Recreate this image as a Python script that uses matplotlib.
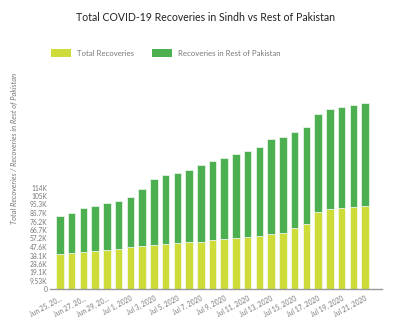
import matplotlib
matplotlib.use("Agg")
import matplotlib.pyplot as plt
import numpy as np
from matplotlib.patches import Patch

plt.rcParams['font.family'] = ['Lato', 'DejaVu Sans']

dates = ["Jun 25, 2020", "Jun 26, 2020", "Jun 27, 2020", "Jun 28, 2020", "Jun 29, 2020",
         "Jun 30, 2020", "Jul 1, 2020", "Jul 2, 2020", "Jul 3, 2020", "Jul 4, 2020",
         "Jul 5, 2020", "Jul 6, 2020", "Jul 7, 2020", "Jul 8, 2020", "Jul 9, 2020",
         "Jul 10, 2020", "Jul 11, 2020", "Jul 12, 2020", "Jul 13, 2020", "Jul 14, 2020",
         "Jul 15, 2020", "Jul 16, 2020", "Jul 17, 2020", "Jul 18, 2020", "Jul 19, 2020",
         "Jul 20, 2020", "Jul 21, 2020"]

# Thousands of recoveries
total_recoveries = [39.8, 40.9, 42.0, 43.5, 44.2, 45.7, 47.3, 48.7, 49.8, 51.0,
                    51.7, 52.9, 53.2, 55.4, 56.2, 57.7, 59.1, 60.3, 61.8, 63.6,
                    69.2, 73.0, 86.5, 89.8, 90.9, 92.1, 93.5]
rest_of_pakistan = [42.5, 44.4, 48.9, 50.4, 52.7, 53.8, 56.0, 63.5, 74.0, 76.9,
                    78.4, 80.6, 85.9, 88.9, 91.4, 94.1, 96.0, 99.6, 107.1, 107.5,
                    107.5, 108.7, 109.7, 112.7, 113.2, 114.2, 115.4]

tick_labels = ["Jun 25, 20...", "Jun 27, 20...", "Jun 29, 20...", "Jul 1, 2020",
               "Jul 3, 2020", "Jul 5, 2020", "Jul 7, 2020", "Jul 9, 2020",
               "Jul 11, 2020", "Jul 13, 2020", "Jul 15, 2020", "Jul 17, 2020",
               "Jul 19, 2020", "Jul 21, 2020"]
y_ticks = [0, 9.53, 19.1, 28.6, 38.1, 47.6, 57.2, 66.7, 76.2, 85.7, 95.3, 105, 114]
y_tick_labels = ["0", "9.53K", "19.1K", "28.6K", "38.1K", "47.6K", "57.2K",
                 "66.7K", "76.2K", "85.7K", "95.3K", "105K", "114K"]

yellow = "#cddc39"
green = "#4caf50"
gray = "#777777"

fig = plt.figure(figsize=(4.0, 3.27), dpi=100)
ax = fig.add_axes([0.125, 0.1147, 0.83, 0.5948])

x = np.arange(len(dates))
ax.bar(x, total_recoveries, width=0.64, color=yellow, edgecolor="#f4f8e0", linewidth=0.6)
ax.bar(x, rest_of_pakistan, bottom=total_recoveries, width=0.64, color=green,
       edgecolor="#e6f2e6", linewidth=0.6)

ax.set_xlim(-0.85, 27.45)
ax.set_ylim(0, 218)

for s in ["top", "right", "left"]:
    ax.spines[s].set_visible(False)
ax.spines["bottom"].set_color("#999999")
ax.spines["bottom"].set_linewidth(1.0)

ax.set_yticks(y_ticks)
ax.set_yticklabels(y_tick_labels, fontsize=4.8, color=gray)
ax.tick_params(axis="y", length=0, pad=2)

ax.set_xticks(x[::2])
ax.set_xticklabels(tick_labels, fontsize=4.8, color=gray, rotation=28,
                   ha="right", rotation_mode="anchor")
ax.tick_params(axis="x", length=0, pad=4)

fig.text(0.035, 0.545, "Total Recoveries / Recoveries in Rest of Pakistan",
         rotation=90, fontsize=5.4, style="italic", color=gray,
         ha="center", va="center")

fig.text(0.513, 0.945, "Total COVID-19 Recoveries in Sindh vs Rest of Pakistan",
         fontsize=7.6, color="#222222", ha="center", va="center")

handles = [Patch(facecolor=yellow, label="Total Recoveries"),
           Patch(facecolor=green, label="Recoveries in Rest of Pakistan")]
leg = fig.legend(handles=handles, loc="center left", bbox_to_anchor=(0.11, 0.838),
                 ncol=2, frameon=False, fontsize=5.6, handlelength=2.6,
                 handleheight=1.3, handletextpad=0.8, columnspacing=2.2)
for t in leg.get_texts():
    t.set_color(gray)

fig.savefig("out.png", dpi=100, facecolor="white")
